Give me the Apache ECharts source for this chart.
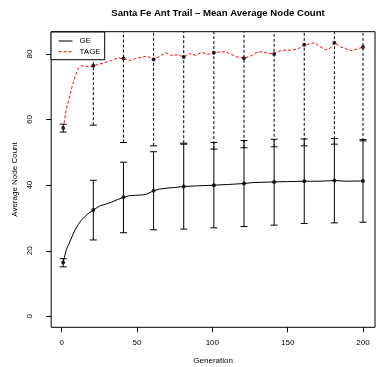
<!DOCTYPE html>
<html>
<head>
<meta charset="utf-8">
<script src="https://cdn.jsdelivr.net/npm/echarts@6/dist/echarts.min.js"></script>
<style>
  html, body { margin: 0; padding: 0; background: #fff; }
  #chart { width: 377px; height: 367px; }
</style>
</head>
<body>
<div id="chart"></div>
<script>
// Mean average node count per generation, Santa Fe ant trail runs.
const geGen = [1, 2, 3, 5, 7, 9, 11, 13, 16, 18, 21, 25, 29, 33, 37, 41, 45, 49, 53, 56, 58, 61,
  65, 70, 75, 81, 90, 101, 110, 121, 127, 135, 141, 150, 161, 170, 181, 190, 200];
const geMean = [16.4, 18.4, 20.3, 22.3, 24.5, 26.5, 28.0, 29.3, 30.7, 31.5, 32.4, 33.6, 34.2, 34.8, 35.6, 36.3, 36.8, 36.9, 37.0, 37.2, 37.6, 38.3,
  38.8, 39.1, 39.3, 39.6, 39.8, 40.0, 40.2, 40.5, 40.8, 40.9, 41.0, 41.1, 41.2, 41.2, 41.4, 41.2, 41.3];

const tageGen = [1, 3, 5, 7, 9, 11, 13, 16, 18, 21, 25, 29, 33, 37, 41, 45, 49, 53, 57, 61,
  65, 69, 73, 77, 81, 85, 89, 93, 97, 101, 105, 109, 113, 117, 121, 125, 129, 133, 137, 141,
  145, 149, 153, 157, 161, 165, 168, 171, 175, 178, 181, 185, 189, 193, 197, 200];
const tageMean = [57.4, 63.0, 66.5, 70.2, 73.3, 75.6, 76.4, 76.3, 76.0, 76.4, 76.9, 77.4, 78.0, 78.8, 78.6, 78.0, 78.6, 79.0, 79.3, 78.3,
  79.3, 80.4, 79.5, 79.8, 79.1, 80.1, 79.6, 80.5, 79.9, 80.4, 80.6, 80.7, 79.8, 79.0, 78.7, 79.3, 80.4, 80.7, 80.2, 80.0,
  81.0, 81.2, 81.2, 81.6, 82.8, 83.1, 83.5, 82.4, 81.3, 81.7, 83.4, 82.2, 81.5, 81.0, 81.7, 82.1];

// Generations where the spread (mean +/- sd) is shown
const barGen = [1, 21, 41, 61, 81, 101, 121, 141, 161, 181, 200];
const geLow  = [15.1, 23.3, 25.5, 26.4, 26.6, 27.0, 27.4, 27.8, 28.3, 28.5, 28.7];
const geHigh = [17.6, 41.5, 47.0, 50.2, 52.5, 53.0, 53.6, 54.0, 54.1, 54.2, 53.9];
const tageLow  = [56.2, 58.3, 53.0, 52.0, 52.8, 51.0, 51.4, 51.7, 52.0, 52.5, 53.5];
const tageHigh = [58.6, 94.7, 104.4, 104.8, 105.4, 109.8, 106.0, 108.3, 113.6, 114.3, 110.7];

const xTicks = [0, 50, 100, 150, 200];
const yTicks = [0, 20, 40, 60, 80];

const FONT = '"Liberation Sans", Arial, Helvetica, sans-serif';

function pairs(xs, ys) { return xs.map((x, i) => [x, ys[i]]); }
function pointsAt(gens, xs, ys) {
  return gens.map(g => [g, ys[xs.indexOf(g)]]);
}
function bars(lo, hi) { return barGen.map((g, i) => [g, lo[i], hi[i]]); }

function errorBar(dashed) {
  return function (params, api) {
    const x = api.value(0);
    const pLo = api.coord([x, api.value(1)]);
    const pHi = api.coord([x, api.value(2)]);
    const w = 3.5;
    const s = { stroke: '#000', lineWidth: 1, fill: null };
    const stem = Object.assign({}, s, dashed ? { lineDash: [3, 2] } : {});
    return {
      type: 'group',
      children: [
        { type: 'line', shape: { x1: pLo[0], y1: pLo[1], x2: pHi[0], y2: pHi[1] }, style: stem },
        { type: 'line', shape: { x1: pLo[0] - w, y1: pLo[1], x2: pLo[0] + w, y2: pLo[1] }, style: s },
        { type: 'line', shape: { x1: pHi[0] - w, y1: pHi[1], x2: pHi[0] + w, y2: pHi[1] }, style: s }
      ]
    };
  };
}

const chart = echarts.init(document.getElementById('chart'), null, { renderer: 'canvas' });
chart.setOption({
  animation: false,
  backgroundColor: '#fff',
  textStyle: { fontFamily: FONT },
  title: {
    text: 'Santa Fe Ant Trail \u2013 Mean Average Node Count',
    left: 213, top: 3, textAlign: 'center',
    textStyle: { fontFamily: FONT, fontSize: 9.6, fontWeight: 'bold', color: '#000' }
  },
  legend: {
    data: ['GE', 'TAGE'],
    orient: 'vertical',
    left: 51, top: 32,
    padding: [5, 4, 4, 7],
    itemWidth: 14, itemHeight: 8, itemGap: 2.7,
    itemStyle: { opacity: 0 },
    lineStyle: { width: 1 },
    backgroundColor: '#fff',
    borderColor: '#000', borderWidth: 1, borderRadius: 0,
    textStyle: { fontFamily: FONT, fontSize: 8, color: '#000', padding: [0, 0, 0, 2] }
  },
  grid: {
    left: 51.2, right: 2, top: 31.7, bottom: 39.7,
    outerBoundsMode: 'none', containLabel: false,
    show: true, borderColor: '#000', borderWidth: 1, backgroundColor: 'transparent'
  },
  xAxis: {
    type: 'value', min: -6.96, max: 207.96,
    name: 'Generation', nameLocation: 'middle', nameGap: 29,
    nameTextStyle: { fontFamily: FONT, fontSize: 8, color: '#000' },
    axisLine: { show: false, onZero: false },
    axisTick: { show: true, length: 5, customValues: xTicks, lineStyle: { color: '#000' } },
    axisLabel: { customValues: xTicks, margin: 11, fontSize: 8, color: '#000', fontFamily: FONT },
    splitLine: { show: false }
  },
  yAxis: {
    type: 'value', min: -3.34, max: 86.8,
    name: 'Average Node Count', nameLocation: 'middle', nameGap: 26, nameRotate: 90,
    nameTextStyle: { fontFamily: FONT, fontSize: 8, color: '#000' },
    axisLine: { show: false, onZero: false },
    axisTick: { show: true, length: 5, customValues: yTicks, lineStyle: { color: '#000' } },
    axisLabel: { customValues: yTicks, rotate: 90, margin: 17, fontSize: 8, color: '#000', fontFamily: FONT },
    splitLine: { show: false }
  },
  series: [
    {
      name: 'GE', type: 'line', data: pairs(geGen, geMean),
      showSymbol: false, symbol: 'none', clip: true,
      lineStyle: { color: '#000', width: 1 }, itemStyle: { color: '#000' }, z: 3
    },
    {
      name: 'TAGE', type: 'line', data: pairs(tageGen, tageMean),
      showSymbol: false, symbol: 'none', clip: true,
      lineStyle: { color: '#ff0000', width: 1, type: [3, 2] }, itemStyle: { color: '#ff0000' }, z: 3
    },
    {
      name: 'GE sd', type: 'custom', data: bars(geLow, geHigh),
      renderItem: errorBar(false), clip: true, encode: { x: 0, y: [1, 2] }, z: 2
    },
    {
      name: 'TAGE sd', type: 'custom', data: bars(tageLow, tageHigh),
      renderItem: errorBar(true), clip: true, encode: { x: 0, y: [1, 2] }, z: 2
    },
    {
      name: 'GE points', type: 'scatter', data: pointsAt(barGen, geGen, geMean),
      symbol: 'circle', symbolSize: 4, itemStyle: { color: '#000' }, z: 4
    },
    {
      name: 'TAGE points', type: 'scatter', data: pointsAt(barGen, tageGen, tageMean),
      symbol: 'circle', symbolSize: 4, itemStyle: { color: '#000' }, z: 4
    }
  ]
});
</script>
</body>
</html>
